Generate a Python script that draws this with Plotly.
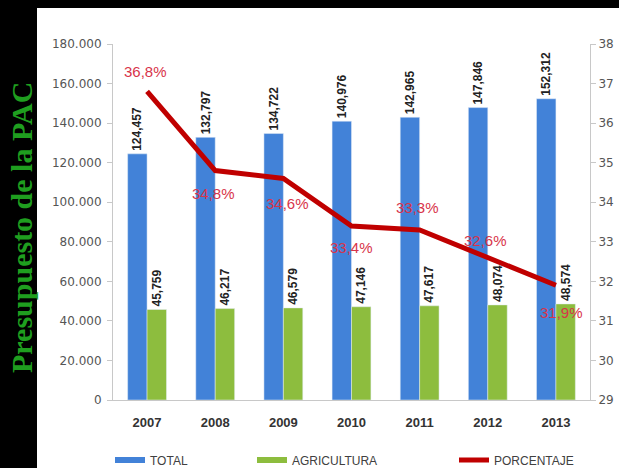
import plotly.graph_objects as go

years = ["2007", "2008", "2009", "2010", "2011", "2012", "2013"]
total = [124457, 132797, 134722, 140976, 142965, 147846, 152312]
agricultura = [45759, 46217, 46579, 47146, 47617, 48074, 48574]
porcentaje = [36.8, 34.8, 34.6, 33.4, 33.3, 32.6, 31.9]
y_ticks = [0, 20000, 40000, 60000, 80000, 100000, 120000, 140000, 160000, 180000]
y2_ticks = [29, 30, 31, 32, 33, 34, 35, 36, 37, 38]

# label offsets (pixels) for the percentage labels
pct_xshift = [-2, -2, 4, 0, -2, -2, 6]
pct_yshift = [20, -23, -25, -22, 22, 17, -27]

BLUE = "#4282d8"
GREEN = "#8dbd3e"
RED = "#c00000"
PCT_TXT = "#d8344a"

W, H = 619, 468
L, R, T, B = 113, 29, 44, 68
pw, ph = W - L - R, H - T - B


def px_x(p):
    return (p - L) / pw


def px_y(p):
    return (H - B - p) / ph


fig = go.Figure()

bar_font = dict(family="Liberation Sans", size=12, color="#222222", weight="bold")
fig.add_trace(go.Bar(
    x=years, y=total, name="TOTAL", marker_color=BLUE, showlegend=False,
    text=[f"{v:,}" for v in total], textposition="outside", textangle=-90,
    textfont=bar_font, constraintext="none", cliponaxis=False,
))
fig.add_trace(go.Bar(
    x=years, y=agricultura, name="AGRICULTURA", marker_color=GREEN, showlegend=False,
    text=[f"{v:,}" for v in agricultura], textposition="outside", textangle=-90,
    textfont=bar_font, constraintext="none", cliponaxis=False,
))
fig.add_trace(go.Scatter(
    x=years, y=porcentaje, name="PORCENTAJE", yaxis="y2", mode="lines",
    line=dict(color=RED, width=5), showlegend=True, legend="legend3", cliponaxis=False,
))

# legend-only entries (no data) to mimic the wide bar swatches
fig.add_trace(go.Scatter(x=[None], y=[None], mode="lines", name="TOTAL",
                         line=dict(color=BLUE, width=6), legend="legend"))
fig.add_trace(go.Scatter(x=[None], y=[None], mode="lines", name="AGRICULTURA",
                         line=dict(color=GREEN, width=6), legend="legend2"))

annotations = []
for i, (v, dx, dy) in enumerate(zip(porcentaje, pct_xshift, pct_yshift)):
    annotations.append(dict(
        x=i, y=v, xref="x", yref="y2", text=f"{v:.1f}%".replace(".", ","),
        showarrow=False, xshift=dx, yshift=dy,
        font=dict(family="Liberation Sans", size=15, color=PCT_TXT),
    ))
annotations.append(dict(
    text="<b>Presupuesto de la PAC</b>", textangle=-90, showarrow=False,
    xref="paper", yref="paper", x=px_x(22), y=px_y(228),
    xanchor="center", yanchor="middle",
    font=dict(family="Liberation Serif", size=30, color="#1f9e1f"),
))

leg_font = dict(family="Liberation Sans", size=12, color="#404040")
leg_common = dict(orientation="h", yanchor="middle", xanchor="left",
                  xref="container", yref="container",
                  bgcolor="rgba(0,0,0,0)", font=leg_font)
leg_y = 1 - 460 / H

fig.update_layout(
    width=W, height=H, autosize=False,
    margin=dict(l=L, r=R, t=T, b=B),
    paper_bgcolor="black",
    plot_bgcolor="white",
    barmode="group",
    bargap=0.43,
    bargroupgap=0,
    separators=",.",
    xaxis=dict(
        type="category", categoryorder="array", categoryarray=years,
        range=[-0.5, len(years) - 0.5], automargin=False,
        showgrid=False, showline=True, linecolor="#c8c8c8",
        ticks="", tickfont=dict(family="Liberation Sans", size=13, color="#333333", weight="bold"),
        ticklabelstandoff=10,
    ),
    yaxis=dict(
        range=[0, 180000], tickvals=y_ticks, tickformat=",d", showgrid=False, automargin=False,
        showline=True, linecolor="#c8c8c8", ticks="outside", ticklen=5, tickcolor="#c8c8c8",
        tickfont=dict(family="DejaVu Sans", size=12, color="#555555"),
        ticklabelstandoff=3, zeroline=False,
    ),
    yaxis2=dict(
        range=[29, 38], tickvals=y2_ticks, ticksuffix="%", overlaying="y", side="right",
        automargin=False,
        showgrid=False, showline=True, linecolor="#c8c8c8", ticks="outside", ticklen=5,
        tickcolor="#c8c8c8", tickfont=dict(family="DejaVu Sans", size=12, color="#555555"),
        zeroline=False,
    ),
    legend=dict(x=110 / W, y=leg_y, **leg_common),
    legend2=dict(x=252 / W, y=leg_y, **leg_common),
    legend3=dict(x=454 / W, y=leg_y, **leg_common),
    shapes=[dict(type="rect", xref="paper", yref="paper", layer="below",
                 x0=px_x(37), x1=px_x(W + 5), y0=px_y(H + 5), y1=px_y(8),
                 fillcolor="white", line=dict(width=0))],
    annotations=annotations,
)

fig.write_html(
    "out.html",
    config={"displayModeBar": False},
    post_script="document.body.style.margin='0';document.body.style.overflow='hidden';",
)
